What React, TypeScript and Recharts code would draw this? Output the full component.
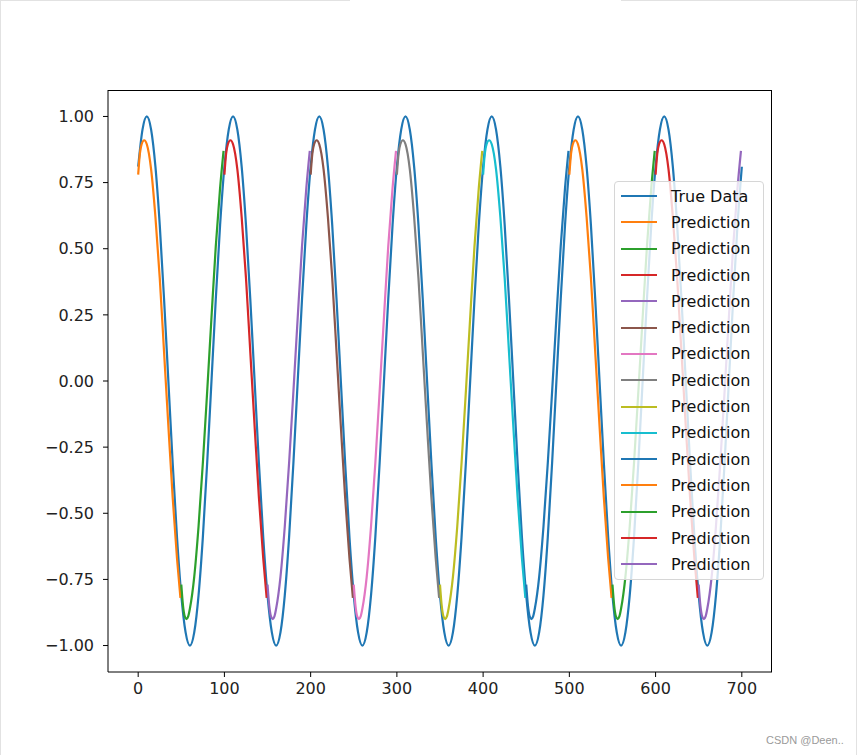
import React from "react";
import { LineChart, Line, XAxis, YAxis, Legend } from "recharts";

// matplotlib tab10 colours
const TAB10 = [
  "#1f77b4", "#ff7f0e", "#2ca02c", "#d62728", "#9467bd",
  "#8c564b", "#e377c2", "#7f7f7f", "#bcbd22", "#17becf",
];

// True data, sampled every 5 steps from x=0 to x=700
const TRUE_STEP = 5;
const TRUE_VALUES = [
  0.81, 0.95, 1.0, 0.95, 0.81, 0.59, 0.31, 0.0, -0.31, -0.59, -0.81, -0.95, -1.0, -0.95, -0.81, -0.59, -0.31, 0.0, 0.31, 0.59,
  0.81, 0.95, 1.0, 0.95, 0.81, 0.59, 0.31, 0.0, -0.31, -0.59, -0.81, -0.95, -1.0, -0.95, -0.81, -0.59, -0.31, 0.0, 0.31, 0.59,
  0.81, 0.95, 1.0, 0.95, 0.81, 0.59, 0.31, 0.0, -0.31, -0.59, -0.81, -0.95, -1.0, -0.95, -0.81, -0.59, -0.31, 0.0, 0.31, 0.59,
  0.81, 0.95, 1.0, 0.95, 0.81, 0.59, 0.31, 0.0, -0.31, -0.59, -0.81, -0.95, -1.0, -0.95, -0.81, -0.59, -0.31, 0.0, 0.31, 0.59,
  0.81, 0.95, 1.0, 0.95, 0.81, 0.59, 0.31, 0.0, -0.31, -0.59, -0.81, -0.95, -1.0, -0.95, -0.81, -0.59, -0.31, 0.0, 0.31, 0.59,
  0.81, 0.95, 1.0, 0.95, 0.81, 0.59, 0.31, 0.0, -0.31, -0.59, -0.81, -0.95, -1.0, -0.95, -0.81, -0.59, -0.31, 0.0, 0.31, 0.59,
  0.81, 0.95, 1.0, 0.95, 0.81, 0.59, 0.31, 0.0, -0.31, -0.59, -0.81, -0.95, -1.0, -0.95, -0.81, -0.59, -0.31, 0.0, 0.31, 0.59,
  0.81,
];

// each prediction window is 50 steps long
const PRED_STARTS = [0, 50, 100, 150, 200, 250, 300, 350, 400, 450, 500, 550, 600, 650];

// offsets inside a window where values were read
const DOWN_OFFSETS = [0, 2, 4, 7, 10, 15, 20, 25, 30, 35, 40, 45, 49];
const UP_OFFSETS = [0, 2, 4, 6, 8, 10, 15, 20, 25, 30, 35, 40, 45, 49];

const PRED_VALUES = [
  [0.78, 0.86, 0.895, 0.91, 0.895, 0.8, 0.62, 0.39, 0.11, -0.17, -0.44, -0.67, -0.82],
  [-0.77, -0.85, -0.89, -0.9, -0.89, -0.86, -0.74, -0.55, -0.31, -0.04, 0.24, 0.51, 0.73, 0.87],
  [0.78, 0.86, 0.895, 0.91, 0.895, 0.8, 0.62, 0.39, 0.11, -0.17, -0.44, -0.67, -0.82],
  [-0.77, -0.85, -0.89, -0.9, -0.89, -0.86, -0.74, -0.55, -0.31, -0.04, 0.24, 0.51, 0.73, 0.87],
  [0.78, 0.86, 0.895, 0.91, 0.895, 0.8, 0.62, 0.39, 0.11, -0.17, -0.44, -0.67, -0.82],
  [-0.77, -0.85, -0.89, -0.9, -0.89, -0.86, -0.74, -0.55, -0.31, -0.04, 0.24, 0.51, 0.73, 0.87],
  [0.78, 0.86, 0.895, 0.91, 0.895, 0.8, 0.62, 0.39, 0.11, -0.17, -0.44, -0.67, -0.82],
  [-0.77, -0.85, -0.89, -0.9, -0.89, -0.86, -0.74, -0.55, -0.31, -0.04, 0.24, 0.51, 0.73, 0.87],
  [0.78, 0.86, 0.895, 0.91, 0.895, 0.8, 0.62, 0.39, 0.11, -0.17, -0.44, -0.67, -0.82],
  [-0.77, -0.85, -0.89, -0.9, -0.89, -0.86, -0.74, -0.55, -0.31, -0.04, 0.24, 0.51, 0.73, 0.87],
  [0.78, 0.86, 0.895, 0.91, 0.895, 0.8, 0.62, 0.39, 0.11, -0.17, -0.44, -0.67, -0.82],
  [-0.77, -0.85, -0.89, -0.9, -0.89, -0.86, -0.74, -0.55, -0.31, -0.04, 0.24, 0.51, 0.73, 0.87],
  [0.78, 0.86, 0.895, 0.91, 0.895, 0.8, 0.62, 0.39, 0.11, -0.17, -0.44, -0.67, -0.82],
  [-0.77, -0.85, -0.89, -0.9, -0.89, -0.86, -0.74, -0.55, -0.31, -0.04, 0.24, 0.51, 0.73, 0.87],
];

const X_TICKS = [0, 100, 200, 300, 400, 500, 600, 700];
const Y_TICKS = [-1, -0.75, -0.5, -0.25, 0, 0.25, 0.5, 0.75, 1];

const FONT = "'DejaVu Sans', sans-serif";

const trueData = TRUE_VALUES.map((y, i) => ({ x: i * TRUE_STEP, y }));

const predSeries = PRED_STARTS.map((start, i) => {
  const offsets = i % 2 === 0 ? DOWN_OFFSETS : UP_OFFSETS;
  return {
    name: "Prediction",
    color: TAB10[(i + 1) % 10],
    data: PRED_VALUES[i].map((y, j) => ({ x: start + offsets[j], y })),
  };
});

const legendItems = [
  { name: "True Data", color: TAB10[0] },
  ...predSeries.map((s) => ({ name: s.name, color: s.color })),
];

const fmtY = (v: number) => {
  const s = Math.abs(v).toFixed(2);
  return v < 0 ? `\u2212${s}` : s;
};

const MplLegend = () => (
  <div
    style={{
      width: 150,
      height: 399,
      boxSizing: "border-box",
      padding: "1px 0 0 6px",
      background: "rgba(255,255,255,0.8)",
      border: "1px solid #d6d6d6",
      borderRadius: 4,
      fontFamily: FONT,
      fontSize: 16,
      color: "#111",
    }}
  >
    {legendItems.map((item, i) => (
      <div key={i} style={{ display: "flex", alignItems: "center", height: 26.3 }}>
        <div style={{ width: 36, height: 2, background: item.color, marginRight: 14 }} />
        <span style={{ whiteSpace: "nowrap" }}>{item.name}</span>
      </div>
    ))}
  </div>
);

export default function App() {
  return (
    <div style={{ position: "absolute", left: 0, top: 0, width: 858, height: 755, background: "#fff" }}>
      {/* page frame artefacts */}
      <div style={{ position: "absolute", left: 0, top: 0, width: 1, height: 755, background: "#e2e2e2" }} />
      <div style={{ position: "absolute", left: 856, top: 0, width: 1, height: 755, background: "#e2e2e2" }} />
      <div style={{ position: "absolute", left: 0, top: 0, width: 350, height: 1, background: "#e2e2e2" }} />
      <div style={{ position: "absolute", left: 621, top: 0, width: 237, height: 1, background: "#e2e2e2" }} />

      <LineChart
        width={858}
        height={755}
        margin={{ top: 90, right: 86, bottom: 53, left: 38 }}
        style={{ fontFamily: FONT }}
      >
        <XAxis
          type="number"
          dataKey="x"
          domain={[-35, 735]}
          ticks={X_TICKS}
          allowDataOverflow
          height={30}
          axisLine={{ stroke: "#000" }}
          tickLine={{ stroke: "#000" }}
          tickSize={5}
          tickMargin={6}
          tick={{ fill: "#222", fontSize: 16, fontFamily: FONT }}
        />
        <YAxis
          type="number"
          dataKey="y"
          domain={[-1.1, 1.1]}
          ticks={Y_TICKS}
          allowDataOverflow
          width={70}
          axisLine={{ stroke: "#000" }}
          tickLine={{ stroke: "#000" }}
          tickSize={5}
          tickMargin={9}
          tickFormatter={fmtY}
          tick={{ fill: "#222", fontSize: 16, fontFamily: FONT }}
        />
        <Line
          data={trueData}
          dataKey="y"
          name="True Data"
          type="monotone"
          stroke={TAB10[0]}
          strokeWidth={2.2}
          dot={false}
          isAnimationActive={false}
        />
        {predSeries.map((s, i) => (
          <Line
            key={i}
            data={s.data}
            dataKey="y"
            name={s.name}
            type="monotone"
            stroke={s.color}
            strokeWidth={2.2}
            dot={false}
            isAnimationActive={false}
          />
        ))}
        <Legend
          layout="vertical"
          align="center"
          verticalAlign="middle"
          content={() => <MplLegend />}
          wrapperStyle={{ left: 614, top: 181, width: 150, height: 399 }}
        />
      </LineChart>

      {/* top and right spines */}
      <div style={{ position: "absolute", left: 108, top: 90, width: 664, height: 1, background: "#000" }} />
      <div style={{ position: "absolute", left: 771, top: 90, width: 1, height: 582, background: "#000" }} />

      <div
        style={{
          position: "absolute",
          left: 766,
          top: 734,
          fontFamily: "'Liberation Sans', Arial, sans-serif",
          fontSize: 11,
          color: "#9a9a9a",
        }}
      >
        CSDN @Deen..
      </div>
    </div>
  );
}
